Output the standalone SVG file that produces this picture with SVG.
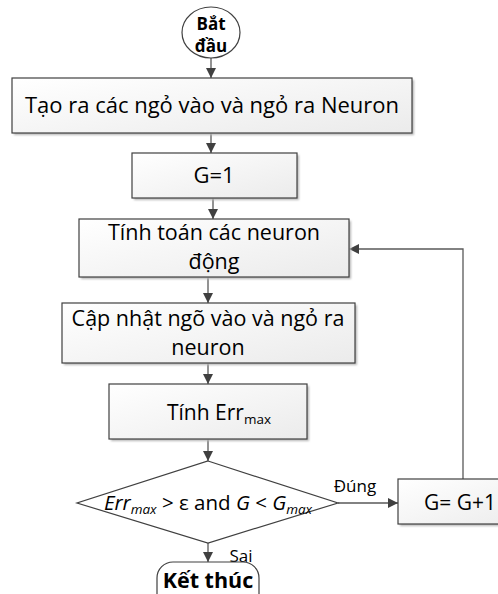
<svg xmlns="http://www.w3.org/2000/svg" width="498" height="594" viewBox="0 0 498 594">
  <defs>
    <linearGradient id="boxFill" x1="0" y1="0" x2="1" y2="1">
      <stop offset="0" stop-color="#ffffff"/>
      <stop offset="1" stop-color="#ebebeb"/>
    </linearGradient>
    <filter id="soft" x="-10%" y="-10%" width="130%" height="140%">
      <feGaussianBlur stdDeviation="1"/>
    </filter>
    <marker id="arrow" viewBox="0 0 10 10" refX="10" refY="5" markerWidth="10" markerHeight="10" markerUnits="userSpaceOnUse" orient="auto">
      <path d="M0,0 L10,5 L0,10 z" fill="#404040"/>
    </marker>
  </defs>
  <style>
    .box { fill: url(#boxFill); stroke: #404040; stroke-width: 1.2; }
    .shadow { fill: #b5b5b5; filter: url(#soft); }
    .shape { fill: #ffffff; stroke: #404040; stroke-width: 1.2; }
    .lbl { font-family: "Open Sans", "Noto Sans", "Liberation Sans", sans-serif; font-size: 22px; fill: #000; text-anchor: middle; }
    .two { font-size: 21.5px; }
    .mid { font-size: 21px; }
    .bold { font-weight: bold; }
    .small { font-size: 17px; }
    .sub { font-size: 13.5px; }
    .edge { fill: none; stroke: #595959; stroke-width: 1.3; }
  </style>

  <rect width="498" height="594" fill="#ffffff"/>

  <g id="connectors">
    <line class="edge" x1="211" y1="58" x2="211" y2="78" marker-end="url(#arrow)"/>
    <line class="edge" x1="211" y1="133" x2="211" y2="153" marker-end="url(#arrow)"/>
    <line class="edge" x1="213" y1="198" x2="213" y2="219" marker-end="url(#arrow)"/>
    <line class="edge" x1="208" y1="277" x2="208" y2="303" marker-end="url(#arrow)"/>
    <line class="edge" x1="208" y1="363" x2="208" y2="384" marker-end="url(#arrow)"/>
    <line class="edge" x1="208" y1="439" x2="208" y2="461" marker-end="url(#arrow)"/>
    <line class="edge" x1="208" y1="543" x2="208" y2="562" marker-end="url(#arrow)"/>
    <line class="edge" x1="338" y1="503" x2="398" y2="503" marker-end="url(#arrow)"/>
    <polyline class="edge" points="463,479 463,249 349,249" marker-end="url(#arrow)"/>
    <text class="lbl small" x="355" y="492">Đúng</text>
    <text class="lbl small" x="241" y="562">Sai</text>
  </g>

  <g id="start">
    <ellipse class="shape" cx="211" cy="32.5" rx="29" ry="25.5"/>
    <text class="lbl bold" style="font-size:17px" x="211" y="30">Bắt</text>
    <text class="lbl bold" style="font-size:17px" x="211" y="52">đầu</text>
  </g>

  <g id="create-io">
    <rect class="shadow" x="14" y="80" width="400" height="55"/>
    <rect class="box" x="12" y="78" width="400" height="55"/>
    <text class="lbl" x="212" y="113">Tạo ra các ngỏ vào và ngỏ ra Neuron</text>
  </g>

  <g id="init-g">
    <rect class="shadow" x="134" y="155" width="165" height="45"/>
    <rect class="box" x="132" y="153" width="165" height="45"/>
    <text class="lbl" x="214" y="183">G=1</text>
  </g>

  <g id="compute">
    <rect class="shadow" x="81" y="221" width="270" height="58"/>
    <rect class="box" x="79" y="219" width="270" height="58"/>
    <text class="lbl two" x="214" y="240">Tính toán các neuron</text>
    <text class="lbl two" x="214" y="269">động</text>
  </g>

  <g id="update">
    <rect class="shadow" x="64" y="305" width="293" height="60"/>
    <rect class="box" x="62" y="303" width="293" height="60"/>
    <text class="lbl two" x="208" y="326">Cập nhật ngõ vào và ngỏ ra</text>
    <text class="lbl two" x="208" y="355">neuron</text>
  </g>

  <g id="err">
    <rect class="shadow" x="111" y="386" width="198" height="55"/>
    <rect class="box" x="109" y="384" width="198" height="55"/>
    <text class="lbl mid" x="219" y="420">Tính Err<tspan class="sub" dy="4">max</tspan></text>
  </g>

  <g id="check">
    <polygon class="shape" points="208,461 338,503 208,543 77,503"/>
    <text class="lbl mid" x="208" y="510" style="font-size:20.5px"><tspan font-style="italic">Err</tspan><tspan class="sub" font-style="italic" dy="4">max</tspan><tspan dy="-4"> &gt; ε and </tspan><tspan font-style="italic">G</tspan> &lt; <tspan font-style="italic">G</tspan><tspan class="sub" font-style="italic" dy="4">max</tspan></text>
  </g>

  <g id="increment">
    <rect class="shadow" x="400" y="481" width="140" height="45"/>
    <rect class="box" x="398" y="479" width="140" height="45"/>
    <text class="lbl mid" x="460" y="510">G= G+1</text>
  </g>

  <g id="end">
    <rect class="shape" x="157" y="562" width="102" height="50" rx="16"/>
    <text class="lbl bold" style="font-size:21.5px" x="208" y="588">Kết thúc</text>
  </g>
</svg>
